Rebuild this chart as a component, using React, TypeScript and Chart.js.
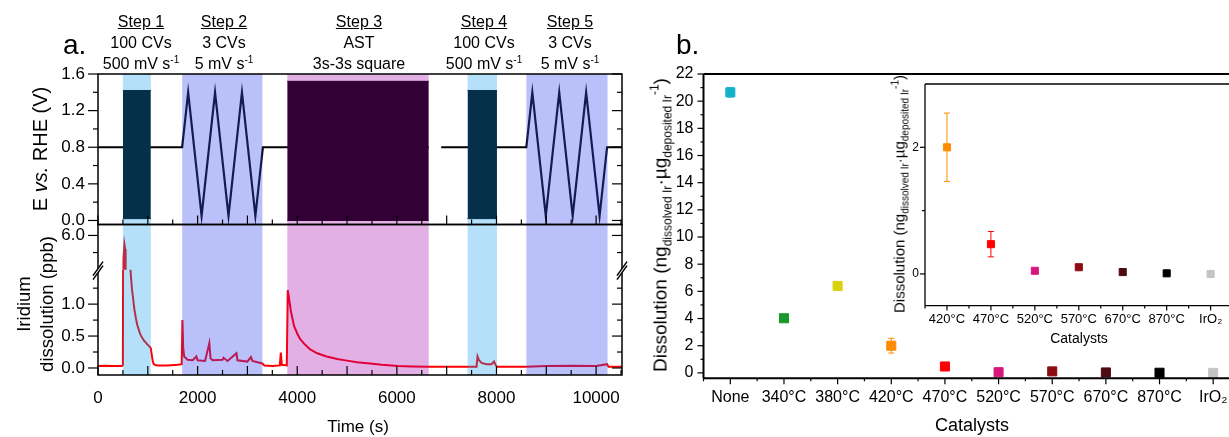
import React, { useEffect, useRef } from 'react';
import { Chart, registerables } from 'chart.js';
Chart.register(...registerables);

const FONT = "'Liberation Sans', Arial, Helvetica, sans-serif";

// ---------------- Panel a data ----------------
const stepBandStart = [500, 1690, 3800, 7420, 8600];
const stepBandEnd = [1060, 3300, 6640, 8010, 10230];
const stepBandColor = [
  'rgba(13,155,239,0.31)',
  'rgba(57,74,240,0.35)',
  'rgba(165,0,174,0.31)',
  'rgba(13,155,239,0.31)',
  'rgba(57,74,240,0.35)',
];

const cvBlockStart = [500, 3800, 7420];
const cvBlockEnd = [1060, 6640, 8010];
const cvBlockLow = [0.02, 0.0, 0.02];
const cvBlockHigh = [1.42, 1.52, 1.42];

const potentialTime = [0, 1690, 1810, 2080, 2350, 2620, 2890, 3160, 3310, 6640, 6650, 6890, 8600, 8720, 8990, 9260, 9530, 9800, 10070, 10220, 10520];
const potentialVolt = [0.8, 0.8, 1.4, 0.05, 1.4, 0.05, 1.4, 0.05, 0.8, 0.8, null, 0.8, 0.8, 1.4, 0.05, 1.4, 0.05, 1.4, 0.05, 0.8, 0.8];

const dissTime = [0, 150, 300, 480, 500, 512, 530, 545, 555, 640, 660, 680, 700, 730, 760, 790, 830, 860, 920, 990, 1040, 1060, 1080, 1100, 1120, 1150, 1200, 1400, 1600, 1680,
  1695, 1710, 1730, 1800, 1900, 1975, 2000, 2150, 2235, 2260, 2300, 2500, 2520, 2600, 2780, 2800, 3000, 3070, 3100, 3200, 3300, 3340, 3500, 3650, 3670, 3690, 3790,
  3810, 3830, 3870, 3935, 4000, 4060, 4150, 4260, 4400, 4590, 4800, 5000, 5200, 5410, 5700, 6025, 6300, 6640, 7000, 7600, 7620, 7650, 7700, 7800, 7900, 7950, 7980, 8010,
  8600, 9000, 9500, 10000, 10220, 10250, 10520];
const dissPpb = [0.03, 0.035, 0.03, 0.03, 0.05, 5.3, 5.74, 5.6, 4.6, 1.7, 1.45, 1.25, 1.12, 0.92, 0.78, 0.67, 0.57, 0.51, 0.43, 0.37, 0.33, 0.31, 0.2, 0.1, 0.06, 0.045, 0.04, 0.04, 0.05, 0.06,
  0.75, 0.32, 0.18, 0.13, 0.12, 0.18, 0.12, 0.11, 0.39, 0.15, 0.12, 0.13, 0.16, 0.11, 0.23, 0.12, 0.1, 0.17, 0.11, 0.09, 0.07, 0.04, 0.03, 0.04, 0.24, 0.05, 0.04,
  1.22, 1.12, 0.9, 0.66, 0.54, 0.45, 0.37, 0.29, 0.23, 0.18, 0.14, 0.115, 0.09, 0.075, 0.05, 0.03, 0.025, 0.02, 0.02, 0.02, 0.18, 0.12, 0.08, 0.06, 0.06, 0.1, 0.05, 0.02,
  0.02, 0.03, 0.035, 0.03, 0.06, 0.02, 0.02];

const timeTickLabels = [0, 2000, 4000, 6000, 8000, 10000];
const timeMajorTicks = [0, 1000, 2000, 3000, 4000, 5000, 6000, 7000, 8000, 9000, 10000];
const timeMinorTicks = [500, 1500, 2500, 3500, 4500, 5500, 6500, 7500, 8500, 9500, 10500];
const potTickLabels = [0, 0.4, 0.8, 1.2, 1.6];
const potMinorTicks = [0.2, 0.6, 1.0, 1.4];
const irLowTickLabels = [0, 0.5, 1.0];
const irLowMinorTicks = [0.25, 0.75, 1.25];
const irHighTickLabels = [6.0];
const irHighMinorTicks = [5.5];

// ---------------- Panel b data ----------------
const catalysts = ['None', '340°C', '380°C', '420°C', '470°C', '520°C', '570°C', '670°C', '870°C', 'IrO₂'];
const dissolution = [20.65, 4.02, 6.4, 2.0, 0.47, 0.05, 0.11, 0.03, 0.01, 0.0];
const dissolutionErr = [0.35, 0.1, 0.1, 0.54, 0.2, 0.02, 0.03, 0.02, 0.01, 0.01];
const catalystColors = ['#14b2c8', '#179a2b', '#d8d30c', '#ff8c00', '#ff0000', '#d8177e', '#8b0d12', '#4d0b12', '#000000', '#c4c4c4'];
const mainYTickLabels = [0, 2, 4, 6, 8, 10, 12, 14, 16, 18, 20, 22];
const mainYMinorTicks = [1, 3, 5, 7, 9, 11, 13, 15, 17, 19, 21];

const insetCatalysts = ['420°C', '470°C', '520°C', '570°C', '670°C', '870°C', 'IrO₂'];
const insetValues = [2.0, 0.47, 0.05, 0.106, 0.03, 0.01, 0.0];
const insetErr = [0.54, 0.2, 0.01, 0.01, 0.01, 0.01, 0.01];
const insetColors = ['#ff8c00', '#ff0000', '#d8177e', '#8b0d12', '#4d0b12', '#000000', '#c4c4c4'];
const insetYTickLabels = [0, 2];
const insetYMinorTicks = [1];

Chart.defaults.font.family = FONT;
Chart.defaults.color = '#000';

function seg(ctx: any, x0: number, y0: number, x1: number, y1: number) {
  ctx.beginPath();
  ctx.moveTo(x0, y0);
  ctx.lineTo(x1, y1);
  ctx.stroke();
}

const panelAPlugin = {
  id: 'panelAFrame',
  afterDatasetsDraw(chart: any) {
    const { ctx, scales } = chart;
    const xs = scales.x, yPot = scales.yPot, yLow = scales.yLow;
    ctx.save();
    stepBandStart.forEach((s, i) => {
      const x0 = xs.getPixelForValue(s);
      const x1 = xs.getPixelForValue(stepBandEnd[i]);
      ctx.fillStyle = stepBandColor[i];
      ctx.fillRect(x0, yPot.top, x1 - x0, yLow.bottom - yPot.top);
    });
    ctx.restore();
  },
  afterDraw(chart: any) {
    const { ctx, scales, chartArea } = chart;
    const { left, right } = chartArea;
    const xs = scales.x, yPot = scales.yPot, yHigh = scales.yHigh, yLow = scales.yLow;
    ctx.save();
    ctx.strokeStyle = '#000';
    ctx.lineWidth = 1.5;
    ctx.strokeRect(left, yPot.top, right - left, yPot.bottom - yPot.top);
    ctx.strokeRect(left, yHigh.top, right - left, yLow.bottom - yHigh.top);
    ctx.lineWidth = 1.2;
    const yt = (scale: any, v: number, len: number) => {
      const p = scale.getPixelForValue(v);
      seg(ctx, left - len, p, left, p);
      seg(ctx, right - len, p, right, p);
    };
    potTickLabels.forEach((v) => yt(yPot, v, 10));
    potMinorTicks.forEach((v) => yt(yPot, v, 5));
    irLowTickLabels.forEach((v) => yt(yLow, v, 10));
    irLowMinorTicks.forEach((v) => yt(yLow, v, 5));
    irHighTickLabels.forEach((v) => yt(yHigh, v, 10));
    irHighMinorTicks.forEach((v) => yt(yHigh, v, 5));
    const xt = (v: number, len: number) => {
      const p = xs.getPixelForValue(v);
      seg(ctx, p, yPot.bottom, p, yPot.bottom - len);
      seg(ctx, p, yLow.bottom, p, yLow.bottom - len);
    };
    timeMajorTicks.forEach((v) => xt(v, 9));
    timeMinorTicks.forEach((v) => xt(v, 5));
    // axis break marks
    const by = yLow.top;
    [left, right].forEach((bx) => {
      ctx.fillStyle = '#fff';
      ctx.beginPath();
      ctx.moveTo(bx - 5, by + 6);
      ctx.lineTo(bx + 5, by - 8);
      ctx.lineTo(bx + 5, by - 4);
      ctx.lineTo(bx - 5, by + 10);
      ctx.closePath();
      ctx.fill();
      ctx.lineWidth = 1.5;
      seg(ctx, bx - 5, by + 6, bx + 5, by - 8);
      seg(ctx, bx - 5, by + 10, bx + 5, by - 4);
    });
    ctx.restore();
  },
};

function makeCatPlugin(id: string, values: number[], errs: number[], colors: string[], yMajor: number[], yMinor: number[], frameWidth: number, major: number, minor: number, cap: number) {
  return {
    id,
    beforeDatasetsDraw(chart: any) {
      const { ctx, scales } = chart;
      const xs = scales.x, ys = scales.y;
      ctx.save();
      ctx.lineWidth = 1;
      values.forEach((v, i) => {
        const px = xs.getPixelForValue(i);
        const y0 = ys.getPixelForValue(v - errs[i]);
        const y1 = ys.getPixelForValue(v + errs[i]);
        ctx.strokeStyle = colors[i];
        seg(ctx, px, y0, px, y1);
        seg(ctx, px - cap, y0, px + cap, y0);
        seg(ctx, px - cap, y1, px + cap, y1);
      });
      ctx.restore();
    },
    afterDraw(chart: any) {
      const { ctx, scales, chartArea } = chart;
      const { left, right, top, bottom } = chartArea;
      const xs = scales.x, ys = scales.y;
      ctx.save();
      ctx.strokeStyle = '#000';
      ctx.lineWidth = frameWidth;
      seg(ctx, left, top, right, top);
      seg(ctx, left, top, left, bottom);
      seg(ctx, left, bottom, right, bottom);
      ctx.lineWidth = 1.2;
      yMajor.forEach((v) => { const p = ys.getPixelForValue(v); seg(ctx, left - major, p, left, p); });
      yMinor.forEach((v) => { const p = ys.getPixelForValue(v); seg(ctx, left - minor, p, left, p); });
      for (let i = 0; i < values.length; i++) {
        const p = xs.getPixelForValue(i);
        seg(ctx, p, bottom, p, bottom + major);
        const q = xs.getPixelForValue(i - 0.5);
        seg(ctx, q, bottom, q, bottom + minor);
      }
      ctx.restore();
    },
  };
}

function panelAConfig(): any {
  const yAxis = (min: number, max: number, weight: number, ticksArr: number[]) => ({
    type: 'linear', position: 'left', stack: 'panelA', stackWeight: weight, min, max, offset: false,
    grid: { display: false, drawTicks: false }, border: { display: false },
    afterBuildTicks: (s: any) => { s.ticks = ticksArr.map((v) => ({ value: v })); },
    afterFit: (s: any) => { s.width = 98; },
    ticks: { font: { family: FONT, size: 17 }, color: '#000', padding: 13, autoSkip: false, callback: (v: any) => Number(v).toFixed(1) },
  });
  const line = (data: any[], yAxisID: string, color: string, width: number) => ({
    type: 'line', data, yAxisID, xAxisID: 'x', borderColor: color, backgroundColor: color, borderWidth: width,
    pointRadius: 0, fill: false, clip: 0, spanGaps: false, tension: 0,
  });
  const potData = potentialTime.map((t, i) => ({ x: t, y: potentialVolt[i] }));
  const dissData = dissTime.map((t, i) => ({ x: t, y: dissPpb[i] }));
  const datasets: any[] = [line(potData, 'yPot', '#000', 2.2)];
  cvBlockStart.forEach((s, i) => {
    datasets.push(line([{ x: s, y: cvBlockHigh[i] }, { x: cvBlockEnd[i], y: cvBlockHigh[i] }], 'yPot', '#000', 1));
    datasets.push({ ...line([{ x: s, y: cvBlockLow[i] }, { x: cvBlockEnd[i], y: cvBlockLow[i] }], 'yPot', '#000', 1), fill: '-1', backgroundColor: '#000' });
  });
  datasets.push(line(dissData, 'yLow', '#ff0000', 2));
  datasets.push(line(dissData, 'yHigh', '#ff0000', 2));
  return {
    type: 'line',
    data: { datasets },
    options: {
      animation: false, responsive: false, devicePixelRatio: 1, events: [],
      layout: { padding: { top: 74, right: 18, left: 0, bottom: 0 } },
      plugins: { legend: { display: false }, tooltip: { enabled: false } },
      scales: {
        x: {
          type: 'linear', position: 'bottom', min: 0, max: 10520,
          grid: { display: false, drawTicks: false }, border: { display: false },
          afterBuildTicks: (s: any) => { s.ticks = timeTickLabels.map((v) => ({ value: v })); },
          afterFit: (s: any) => { s.height = 62; },
          ticks: { font: { family: FONT, size: 17 }, color: '#000', padding: 13, autoSkip: false, maxRotation: 0, callback: (v: any) => String(v) },
        },
        yLow: yAxis(-0.11, 1.54, 105, irLowTickLabels),
        yHigh: yAxis(5.0, 6.32, 45, irHighTickLabels),
        yPot: yAxis(-0.044, 1.6, 150, potTickLabels),
      },
    },
    plugins: [panelAPlugin],
  };
}

function catConfig(labels: string[], values: number[], colors: string[], yMin: number, yMax: number, yTicks: number[], yWidth: number, xHeight: number,
  pad: any, fontSizeX: number, fontSizeY: number, padX: number, padY: number, radius: number, plugin: any): any {
  return {
    type: 'line',
    data: {
      labels,
      datasets: [{
        data: values, showLine: false, pointStyle: 'rect', pointRadius: radius,
        pointBackgroundColor: colors, pointBorderColor: colors, pointBorderWidth: 1, clip: false,
      }],
    },
    options: {
      animation: false, responsive: false, devicePixelRatio: 1, events: [],
      layout: { padding: pad },
      plugins: { legend: { display: false }, tooltip: { enabled: false } },
      scales: {
        x: {
          type: 'category', offset: true,
          grid: { display: false, drawTicks: false }, border: { display: false },
          afterFit: (s: any) => { s.height = xHeight; },
          ticks: { font: { family: FONT, size: fontSizeX }, color: '#000', padding: padX, autoSkip: false, maxRotation: 0 },
        },
        y: {
          type: 'linear', min: yMin, max: yMax,
          grid: { display: false, drawTicks: false }, border: { display: false },
          afterBuildTicks: (s: any) => { s.ticks = yTicks.map((v) => ({ value: v })); },
          afterFit: (s: any) => { s.width = yWidth; },
          ticks: { font: { family: FONT, size: fontSizeY }, color: '#000', padding: padY, autoSkip: false },
        },
      },
    },
    plugins: [plugin],
  };
}

const sub = (size: number, off: number) => ({ fontSize: size, position: 'relative' as const, top: off });

export default function App() {
  const aRef = useRef<HTMLCanvasElement>(null);
  const bRef = useRef<HTMLCanvasElement>(null);
  const cRef = useRef<HTMLCanvasElement>(null);

  useEffect(() => {
    document.body.style.margin = '0';
    const charts = [
      new Chart(aRef.current as any, panelAConfig()),
      new Chart(bRef.current as any, catConfig(catalysts, dissolution, catalystColors, -0.4, 22, mainYTickLabels, 63.5, 58.7,
        { top: 74, right: 40, left: 0, bottom: 0 }, 16, 16, 10, 10, 6.4,
        makeCatPlugin('mainB', dissolution, dissolutionErr, catalystColors, mainYTickLabels, mainYMinorTicks, 2, 6, 3, 3))),
      new Chart(cRef.current as any, catConfig(insetCatalysts, insetValues, insetColors, -0.5, 3.0, insetYTickLabels, 65, 54.4,
        { top: 24, right: 47.4, left: 0, bottom: 0 }, 13, 12, 6, 6, 5,
        makeCatPlugin('insetB', insetValues, insetErr, insetColors, insetYTickLabels, insetYMinorTicks, 1.3, 5, 3, 3))),
    ];
    return () => charts.forEach((c) => c.destroy());
  }, []);

  const abs = (x: number, y: number, extra: any = {}) => ({ position: 'absolute' as const, left: x, top: y, whiteSpace: 'nowrap' as const, lineHeight: 1, ...extra });
  const centered = (x: number, y: number, size: number, extra: any = {}) => abs(x, y, { fontSize: size, transform: 'translate(-50%,-50%)', ...extra });
  const rotated = (x: number, y: number, size: number, extra: any = {}) => abs(x, y, { fontSize: size, transform: 'translate(-50%,-50%) rotate(-90deg)', ...extra });

  const steps = [
    { x: 141, t: 'Step 1', a: '100 CVs', b: '500 mV s' },
    { x: 224, t: 'Step 2', a: '3 CVs', b: '5 mV s' },
    { x: 359, t: 'Step 3', a: 'AST', b: '3s-3s square' },
    { x: 484, t: 'Step 4', a: '100 CVs', b: '500 mV s' },
    { x: 570, t: 'Step 5', a: '3 CVs', b: '5 mV s' },
  ];

  return (
    <div style={{ position: 'fixed', left: 0, top: 0, width: 1229, height: 437, overflow: 'hidden', background: '#fff', fontFamily: FONT, color: '#000' }}>
      <canvas ref={aRef} width={640} height={437} style={{ position: 'absolute', left: 0, top: 0, width: 640, height: 437 }} />
      <canvas ref={bRef} width={640} height={437} style={{ position: 'absolute', left: 640, top: 0, width: 640, height: 437 }} />
      <canvas ref={cRef} width={420} height={300} style={{ position: 'absolute', left: 860, top: 60, width: 420, height: 300 }} />

      <div style={abs(63, 31, { fontSize: 28 })}>a.</div>
      <div style={abs(676, 31, { fontSize: 28 })}>b.</div>

      {steps.map((s) => (
        <div key={s.t} style={{ position: 'absolute', left: s.x - 70, top: 11, width: 140, textAlign: 'center', fontSize: 16, lineHeight: '21px', whiteSpace: 'nowrap' }}>
          <div style={{ textDecoration: 'underline' }}>{s.t}</div>
          <div>{s.a}</div>
          <div>{s.b}{s.b.endsWith('mV s') ? <span style={sub(10, -6)}>-1</span> : null}</div>
        </div>
      ))}

      <div style={rotated(40, 149, 20)}>E <i>vs.</i> RHE (V)</div>
      <div style={rotated(35, 304, 18.5, { textAlign: 'center', lineHeight: '23px' })}>Iridium<br />dissolution (ppb)</div>
      <div style={centered(358, 426, 17)}>Time (s)</div>

      <div style={rotated(660, 225, 19)}>
        Dissolution (ng<span style={sub(12, 5)}>dissolved Ir</span>·µg<span style={sub(12, 5)}>deposited Ir</span><span style={sub(12, -8)}>-1</span>)
      </div>
      <div style={centered(972, 425, 18)}>Catalysts</div>

      <div style={rotated(899, 194, 15)}>
        Dissolution (ng<span style={sub(10, 4)}>dissolved Ir</span>·µg<span style={sub(10, 4)}>deposited Ir</span><span style={sub(10, -6)}>-1</span>)
      </div>
      <div style={centered(1079, 338, 14)}>Catalysts</div>
    </div>
  );
}
